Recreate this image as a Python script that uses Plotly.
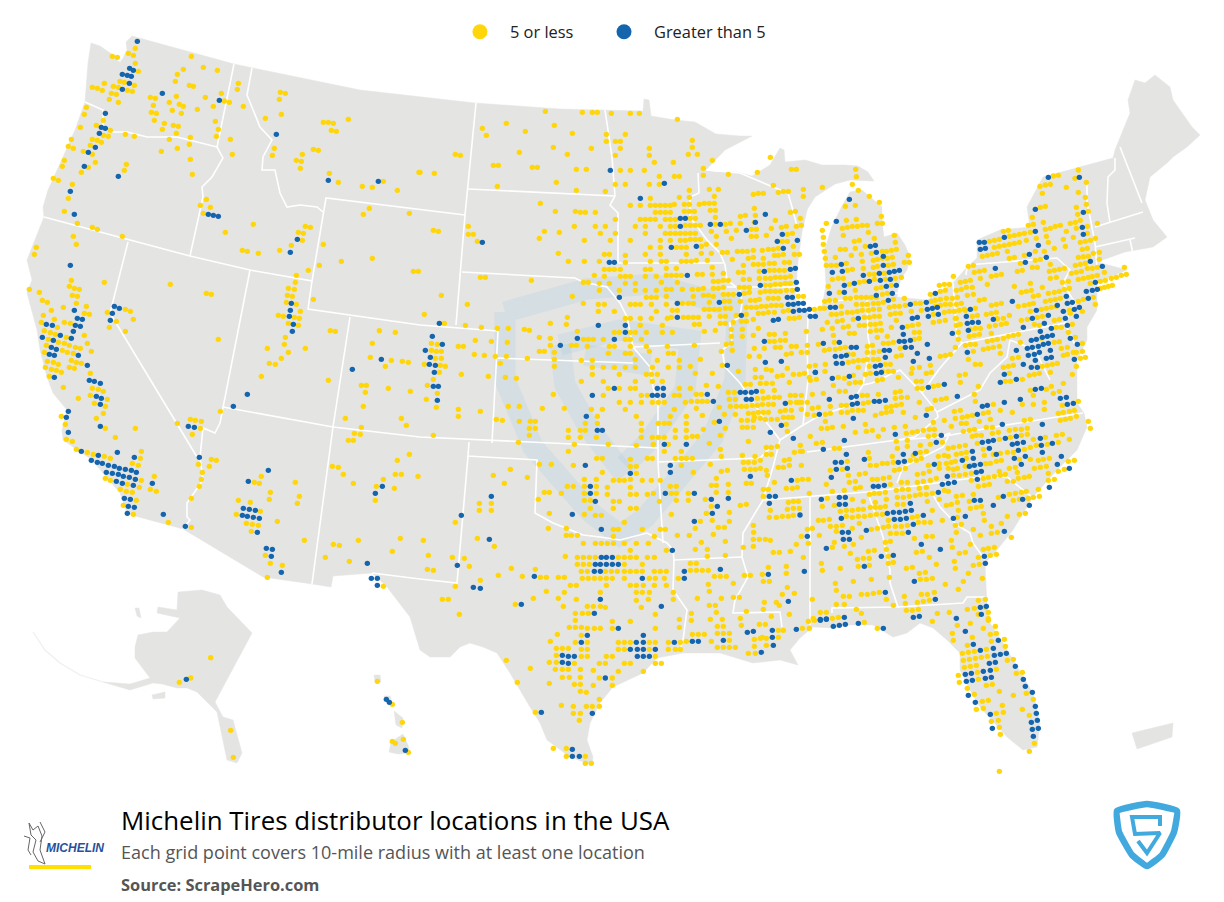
import plotly.graph_objects as go

# ---- reference readings: dots per map region, read at 3x magnification (x, y, origin of crop below)
NW_LOW = [(346,55),(325,70),(340,76),(277,79),(292,82),(514,79),(346,100),(355,124),(490,118),(550,112),(592,121),(472,133),(466,154),(300,154),(313,157),(253,160),(280,169),(295,172),(343,166),(217,172),(232,175),(247,181),(322,181),(337,184),(508,166),(520,169),(655,160),(652,178),(781,187),(796,190),(274,190),(289,193),(604,190),(391,202),(406,205),(469,199),(556,202),(778,208),(268,208),(295,217),(613,213),(628,217),(448,217),(478,223),(490,229),(400,226),(199,232),(670,229),(580,229),(532,238),(457,241),(394,247),(409,250),(484,250),(193,253),(784,253),(736,265),(403,271),(250,271),(586,274),(985,268),(910,277),(925,277),(940,280),(433,280),(229,286),(460,286),(475,289),(181,292),(427,298),(595,298),(271,301),(934,301),(949,304),(469,310),(250,316),(265,319),(316,313),(343,319),(589,319),(511,322),(154,328),(217,328),(232,331),(448,328),(631,328),(244,337),(211,346),(508,343),(145,349),(160,355),(472,355),(763,355),(880,358),(895,361),(424,364),(190,364),(217,373),(637,373),(847,373),(757,376),(511,388),(829,391),(844,394),(133,391),(226,397),(319,403),(127,409),(205,412),(841,415),(313,421),(184,427),(517,433),(928,430),(100,445),(115,451),(955,457),(157,463),(1090,454),(1027,469),(1057,472),(1132,481),(1197,427),(145,505),(559,508),(541,526),(571,532),(1048,535),(1030,553),(1168,550),(133,544),(550,550),(172,580),(700,583),(217,592),(232,598),(856,589),(871,592),(835,607),(850,610),(616,607),(160,619),(307,619),(847,631),(169,643),(910,643),(814,646),(49,652),(667,661),(682,664),(779,661),(715,670),(43,673),(1057,685),(964,694),(898,706),(865,721),(1180,724),(1195,724),(829,736),(154,751),(826,757),(253,757),(451,763),(148,769),(163,775),(178,778),(805,775),(823,778),(28,778),(58,787),(559,790),(574,793),(157,796),(172,799),(802,796),(817,799),(880,808),(67,811),(82,817),(169,820),(799,817),(829,823),(130,832),(199,829),(316,838),(331,844),(94,841),(841,844),(193,850),(208,853),(262,847),(70,856),(775,856),(790,859),(823,862),(838,865),(103,868),(289,874),(340,868),(133,877),(151,880),(64,877),(805,880),(835,886),(112,892),(268,892)]
NW_HIGH = [(352,34),(329,115),(340,121),(307,133),(322,136),(334,139),(328,160),(307,178),(427,190),(598,211),(256,250),(244,292),(256,295),(238,310),(226,352),(205,367),(769,313),(193,409),(295,439),(925,451),(1075,454),(151,484),(163,553),(565,553),(580,556),(595,559),(832,628),(811,667),(151,706),(814,820),(811,841),(283,829),(298,835),(277,850),(163,841),(808,859),(172,865),(187,868),(271,871),(79,883),(97,886),(820,883),(166,886),(181,889)]
NW_ORIGIN = (20, 30)

SW_LOW = [(73,2),(91,8),(106,13),(139,22),(193,16),(316,4),(595,28),(796,22),(931,2),(946,4),(1078,2),(1126,7),(85,28),(115,37),(133,40),(79,46),(148,46),(166,52),(181,55),(202,40),(793,43),(1057,40),(742,55),(856,55),(127,61),(142,67),(160,70),(73,67),(214,64),(805,67),(1051,82),(1114,91),(1147,94),(1165,97),(784,85),(154,91),(82,94),(100,97),(169,97),(184,100),(115,103),(748,100),(766,103),(1096,109),(76,112),(94,118),(148,112),(163,115),(109,121),(124,127),(211,130),(88,139),(724,139),(925,151),(1024,166),(1039,166),(1036,187),(217,175),(235,178),(250,184),(130,172),(1105,175),(1171,184),(211,196),(175,205),(262,208),(223,220),(256,229),(1030,229),(601,244),(250,250),(124,259),(229,265),(976,265),(1144,265),(526,271),(511,268),(544,274),(472,280),(136,283),(1159,286),(1024,292),(541,295),(256,295),(346,295),(1003,310),(1021,313),(517,313),(286,322),(985,331),(1000,331),(139,328),(157,334),(169,358),(202,367),(220,373),(364,364),(253,379),(271,385),(361,385),(1168,373),(574,388),(589,391),(1132,391),(337,400),(355,406),(535,403),(568,409),(937,409),(955,412),(547,427),(970,433),(1126,433),(1144,433),(1194,439),(403,439),(724,439),(256,445),(271,451),(364,451),(544,448),(1090,448),(703,457),(718,460),(826,457),(1000,460),(322,463),(538,469),(1069,469),(1123,475),(358,472),(301,478),(319,484),(337,487),(391,478),(409,484),(751,487),(838,499),(514,505),(748,508),(655,511),(691,517),(1066,511),(349,511),(832,520),(310,526),(721,544),(649,553),(340,553),(772,574),(679,580),(697,583),(715,586),(445,577),(514,592),(694,604),(853,631),(1015,631),(1141,625),(940,643),(958,646),(1117,664),(736,676),(916,682),(988,694),(751,700),(787,706),(742,742),(1090,769)]
SW_HIGH = [(67,22),(121,16),(154,25),(160,4),(100,31),(94,52),(109,58),(88,73),(103,76),(175,76),(202,106),(103,142),(997,118),(1084,88),(208,151),(223,154),(241,160),(682,193),(229,199),(244,205),(241,223),(640,229),(145,244),(139,262),(505,289),(523,292),(241,289),(145,307),(292,367),(184,364),(343,382),(235,376),(538,382),(214,391),(232,397),(247,400),(265,406),(283,409),(298,415),(316,418),(334,421),(349,427),(259,427),(277,430),(295,433),(310,439),(328,442),(346,448),(289,454),(307,460),(340,466),(397,460),(745,421),(685,454),(1087,469),(1066,490),(313,505),(331,508),(325,529),(343,532),(670,535),(688,538),(706,541),(322,550),(667,556),(682,559),(700,562),(718,565),(430,553),(496,589),(712,607),(739,655),(757,658),(754,679),(784,727),(1042,700),(1054,745),(1072,745),(1072,766),(817,4)]
SW_ORIGIN = (20, 330)

NC_LOW = [(376,64),(487,67),(517,67),(532,67),(574,70),(631,70),(658,70),(772,88),(259,100),(403,106),(187,115),(316,124),(199,136),(457,130),(559,133),(616,133),(559,154),(586,154),(601,154),(817,151),(400,172),(514,175),(601,175),(688,175),(817,172),(298,187),(442,193),(106,193),(121,196),(586,196),(688,196),(805,193),(832,193),(877,211),(703,217),(760,217),(1051,202),(220,226),(235,226),(337,232),(352,232),(469,238),(499,238),(601,241),(631,241),(673,241),(850,235),(1012,247),(1114,238),(1129,238),(0,247),(43,250),(925,253),(718,259),(763,259),(778,259),(850,256),(409,277),(586,283),(616,283),(688,283),(718,283),(1060,286),(232,289),(469,301),(556,304),(808,301),(868,298),(895,298),(1075,307),(1090,304),(1105,304),(1150,298),(1000,313),(1015,310),(1030,310),(883,319),(1150,319),(691,325),(778,322),(808,322),(361,340),(631,346),(661,346),(691,346),(706,346),(721,346),(736,346),(751,346),(763,343),(793,343),(808,343),(838,343),(853,340),(868,340),(883,340),(406,364),(466,364),(481,367),(496,367),(526,367),(706,367),(721,367),(736,367),(751,367),(793,364),(808,364),(823,364),(871,361),(886,361),(1003,355),(1111,367),(1126,364),(961,379),(976,376),(1006,376),(886,382),(586,388),(661,388),(676,388),(691,388),(706,388),(736,388),(751,388),(766,388),(811,385),(826,385),(1066,391),(1141,385),(961,400),(1003,397),(931,400),(886,403),(145,409),(463,409),(526,409),(556,409),(646,409),(676,409),(721,409),(751,409),(766,409),(796,406),(811,406),(826,406),(841,406),(916,403),(1054,415),(1084,412),(1099,409),(1129,409),(1144,406),(40,421),(55,424),(373,424),(418,427),(541,430),(586,430),(676,430),(736,430),(751,430),(766,430),(781,430),(796,430),(811,430),(826,430),(874,424),(919,424),(949,421),(994,418),(1009,418),(1102,433),(1117,430),(145,433),(160,433),(358,445),(493,451),(571,451),(631,451),(721,451),(751,451),(781,451),(796,451),(811,448),(826,448),(841,448),(889,439),(934,445),(994,439),(1009,439),(1039,436),(172,454),(859,463),(1087,454),(1102,454),(691,472),(721,472),(769,472),(784,472),(799,472),(844,469),(889,463),(1120,469),(1027,481),(1045,478),(1060,478),(1075,475),(415,490),(553,493),(568,493),(616,496),(676,493),(721,493),(799,493),(844,490),(874,490),(907,487),(922,487),(952,484),(967,484),(982,484),(1000,481),(1063,496),(1075,496),(1090,493),(1123,493),(1138,493),(937,508),(985,505),(1000,502),(1030,505),(445,514),(493,514),(538,514),(616,517),(691,514),(724,514),(739,514),(784,514),(799,514),(814,514),(829,511),(862,511),(1000,523),(1015,523),(1030,523),(1048,520),(1063,520),(1093,517),(1108,517),(970,526),(877,532),(553,538),(568,538),(583,538),(601,538),(676,538),(691,538),(739,535),(769,535),(1018,544),(1048,541),(1063,541),(1078,541),(1093,541),(955,547),(970,547),(910,550),(877,553),(523,556),(553,559),(601,559),(616,559),(631,559),(676,559),(709,559),(739,556),(754,556),(769,556),(784,556),(832,553),(847,553),(181,562),(196,562),(334,571),(970,568),(988,568),(1018,565),(1036,565),(1051,565),(1066,562),(1081,562),(1096,562),(1111,559),(880,574),(895,574),(910,571),(925,571),(490,577),(505,577),(538,580),(568,580),(616,580),(646,580),(724,577),(772,577),(958,592),(973,592),(988,592),(1036,586),(1051,586),(1066,583),(1081,583),(1096,580),(1111,580),(880,595),(895,595),(910,592),(538,601),(598,601),(646,601),(676,601),(709,601),(739,598),(754,598),(787,598),(817,598),(835,598),(850,595),(1021,607),(1036,604),(1051,604),(1066,604),(1081,604),(1099,601),(1117,601),(973,610),(988,607),(910,613),(925,613),(940,613),(64,616),(457,619),(679,622),(694,622),(709,622),(739,619),(820,619),(850,616),(865,616),(880,619),(1150,619),(1135,619),(1060,625),(1075,625),(1018,628),(1045,625),(991,631),(1006,631),(961,634),(913,634),(928,634),(868,637),(490,640),(535,643),(553,643),(631,643),(646,643),(661,643),(694,643),(739,643),(787,640),(805,640),(820,640),(979,652),(994,652),(1009,652),(1024,649),(1039,649),(1054,646),(1069,646),(1084,646),(142,643),(853,658),(868,658),(883,658),(898,658),(916,655),(931,655),(535,664),(583,664),(709,664),(757,661),(772,661),(1015,670),(1030,670),(1045,667),(1063,667),(1090,664),(1105,661),(1183,658),(13,673),(979,673),(442,682),(616,685),(631,685),(661,685),(694,685),(742,685),(754,682),(790,682),(805,682),(820,682),(835,682),(868,679),(901,679),(916,679),(949,676),(1123,685),(1138,682),(1108,685),(1000,688),(73,700),(391,700),(439,703),(136,706),(184,712),(232,715),(265,715),(313,718),(328,721),(661,706),(727,706),(823,703),(838,703),(901,700),(916,700),(979,694),(940,697),(964,694),(1015,715),(934,718),(967,718),(853,724),(886,721),(1096,730),(1159,724),(472,724),(583,727),(598,727),(631,727),(646,727),(679,727),(727,727),(757,727),(934,739),(967,739),(1048,733),(1063,733),(1000,736),(358,742),(391,745),(490,748),(505,748),(520,748),(550,748),(616,748),(631,748),(664,748),(1081,751),(1096,751),(166,751),(214,754),(262,757),(934,760),(1048,754),(1063,754),(115,769),(130,769),(391,766),(454,766),(469,766),(502,769),(568,769),(583,769),(631,769),(679,769),(742,769),(823,766),(919,763),(937,781),(1003,775),(1033,775),(1066,772),(1081,772),(1114,769),(1129,769),(1162,766),(1195,763),(358,784),(373,784),(565,790),(616,790),(631,790),(688,784),(745,790),(760,790),(904,784),(1114,790),(1099,793),(1162,787),(1144,787),(163,793),(193,796),(226,799),(259,799),(322,805),(403,787),(403,808),(646,808),(712,811),(778,811),(841,808),(1018,799),(988,799),(241,820),(484,811),(517,811),(517,832),(550,832),(583,832),(616,832),(646,832),(697,832),(745,832),(778,832),(811,829),(907,826),(1168,829),(1186,826),(403,829),(1102,835),(1039,838),(1054,841),(1006,838),(955,844),(124,853),(517,853),(598,853),(679,853),(694,853),(712,853),(826,850),(877,850),(1120,853),(1138,853),(1153,850),(1072,859),(1087,856),(205,859),(256,862),(289,865),(1006,862),(1024,862),(1168,862),(13,823),(34,760),(52,763),(34,781),(49,784),(64,784),(46,805),(64,805),(61,826),(76,829),(58,847),(40,868)]
NC_HIGH = [(571,241),(733,280),(661,325),(781,385),(796,385),(781,409),(871,403),(901,403),(1036,373),(1006,397),(979,421),(1087,433),(1072,454),(1132,451),(1090,475),(187,457),(754,472),(829,469),(568,517),(583,517),(1126,535),(1111,538),(1033,544),(802,556),(1021,586),(1129,577),(1132,598),(958,613),(598,622),(1102,622),(1117,622),(772,640),(898,637),(1105,643),(1120,643),(1135,640),(1150,640),(1120,664),(1138,661),(1153,661),(1168,658),(1171,679),(1186,679),(964,676),(772,682),(1060,691),(1075,688),(58,700),(535,706),(616,706),(616,727),(37,739),(472,745),(583,748),(67,763),(421,766),(16,781),(31,802),(28,823),(46,826),(43,847),(1033,754),(1036,817),(1084,814),(922,826),(1186,847)]
NC_ORIGIN = (420, 90)

NE_LOW = [(107,298),(109,320),(97,343),(7,352),(115,361),(148,379),(178,397),(76,409),(106,406),(184,439),(19,460),(79,451),(109,448),(172,460),(187,460),(67,475),(82,472),(97,469),(112,469),(127,466),(142,466),(145,487),(7,481),(70,496),(10,502),(163,505),(223,496),(103,514),(118,511),(10,523),(136,529),(226,517),(13,544),(61,538),(76,538),(106,535),(187,544),(199,544),(214,541),(229,538),(46,562),(94,556),(124,553),(154,550),(265,556),(16,565),(172,568),(187,565),(202,565),(217,562),(253,577),(268,577),(19,586),(34,586),(49,586),(79,580),(127,574),(160,571),(172,589),(205,586),(220,583),(82,601),(97,598),(130,595),(160,592),(37,628),(55,625),(70,625),(148,613),(163,613),(193,610),(88,643),(118,637),(133,634),(163,628),(196,628),(226,625),(244,622),(25,649),(106,661),(169,655),(184,652),(214,646),(58,667),(187,673),(202,670),(91,685),(76,685),(109,682),(124,682),(139,682),(154,682),(169,682),(14,694),(28,691),(46,691),(253,685),(220,688),(0,715),(13,715),(64,709),(109,703),(127,703),(142,703),(160,700),(175,700),(190,697),(208,712),(223,709),(238,709),(256,706),(286,700),(301,700),(64,730),(82,727),(97,727),(112,724),(127,721),(145,721),(160,718),(178,718),(34,733),(49,733),(211,733),(226,730),(241,730),(163,739),(178,739),(148,742),(133,742),(52,754),(67,751),(22,757),(100,748),(229,751),(274,724),(304,721),(118,766),(133,766),(151,763),(166,763),(181,760),(70,772),(85,769),(37,775),(7,778),(214,772),(262,769),(277,766),(295,763),(151,784),(169,781),(184,781),(298,787),(283,787),(40,796),(88,790),(103,790),(172,802),(202,799),(43,817),(283,808),(298,805),(142,829),(157,826),(190,820),(205,820),(220,817),(28,838),(46,838),(61,835),(76,832),(241,835),(13,841),(142,847),(160,847),(178,844),(229,859),(244,856),(85,853),(100,853),(142,868),(160,868),(175,868),(100,874),(85,877),(115,871),(130,871),(277,895),(298,892),(115,892),(148,889),(196,883),(211,883),(331,886),(16,883),(358,646),(373,643),(388,643),(361,664),(376,661),(331,673),(361,688),(379,685),(346,691),(334,694),(397,685),(412,682),(346,709),(361,706),(376,703),(391,703),(409,703),(424,700),(340,733),(373,727),(388,724),(403,724),(418,721),(433,718),(406,745),(376,751),(358,754),(340,757),(400,619),(445,589),(460,586),(463,607),(478,604),(493,601),(421,637),(436,634),(451,631),(481,625),(514,619),(529,616),(544,613),(592,604),(607,601),(637,592),(652,592),(688,604),(703,601),(718,598),(733,595),(409,661),(424,658),(439,652),(457,652),(502,643),(583,649),(631,640),(604,667),(619,664),(634,661),(667,652),(691,625),(709,622),(727,637),(745,634),(685,670),(703,667),(718,664),(733,658),(748,655),(775,628),(790,625),(805,622),(817,619),(832,616),(754,610),(769,607),(784,604),(802,595),(817,595),(832,592),(853,607),(811,640),(841,634),(856,631),(874,625),(889,622),(904,616),(919,613),(913,592),(841,655),(853,652),(865,649),(877,646),(442,676),(460,673),(478,691),(493,688),(514,706),(529,703),(544,700),(595,709),(613,706),(628,703),(640,700),(655,676),(640,679),(676,694),(691,691),(706,688),(721,685),(775,694),(790,688),(820,682),(826,703),(631,724),(664,718),(679,715),(694,712),(709,709),(748,721),(466,715),(436,721),(409,745),(421,763),(409,766),(457,739),(472,736),(499,733),(514,730),(529,727),(532,746),(550,745),(568,736),(481,775),(466,775),(451,778),(463,796),(448,799),(478,793),(508,769),(526,766),(544,763),(559,760),(514,790),(604,751),(622,748),(652,742),(667,739),(703,751),(718,748),(757,763),(751,730),(787,724),(724,772),(709,772),(595,793),(643,763),(658,766),(580,796),(565,799),(550,805),(532,808),(517,811),(502,814),(538,829),(520,832),(505,835),(490,838),(466,823),(451,823),(436,826),(415,787),(415,808),(406,832),(391,853),(376,856),(361,859),(601,817),(664,805),(718,815),(703,817),(460,844),(445,868),(466,883),(481,883),(541,850),(742,832),(724,835),(787,820),(769,847),(787,844),(796,862),(781,865),(730,856),(742,853),(760,847),(769,889),(712,880),(697,883),(682,886),(667,889),(745,787),(766,802),(580,886),(565,889),(550,892),(595,862),(577,865)]
NY_LOW = [(700,318),(715,316),(775,300),(765,325),(660,349),(676,345),(691,343),(739,352),(799,337),(667,370),(775,367),(796,382),(799,403),(769,412),(773,433),(805,424),(661,412),(676,409),(637,442),(625,466),(640,463),(670,457),(676,478),(691,475),(706,469),(721,466),(751,460),(766,457),(781,451),(769,475),(802,469),(832,460),(739,484),(679,499),(649,505),(760,502),(685,517),(730,508),(802,490),(781,517),(796,514),(811,511),(826,505),(703,535),(736,529),(787,538),(802,535),(790,560),(805,559),(820,550),(838,547),(775,562),(838,568),(661,568),(601,580),(691,583),(766,586),(781,583),(796,580),(508,514),(523,511),(538,508),(550,484),(565,481),(568,499),(583,496),(598,493),(613,490),(631,487),(523,532),(538,529),(553,526),(568,523),(583,520),(598,517),(619,511),(487,559),(502,556),(517,553),(532,550),(562,544),(583,562),(568,565),(613,556),(646,544),(673,544),(646,571)]
NE_HIGH = [(88,388),(49,454),(151,529),(166,526),(169,547),(190,559),(64,583),(37,607),(67,604),(130,616),(178,610),(208,607),(223,604),(238,601),(190,586),(73,646),(103,640),(148,634),(181,631),(211,628),(199,649),(229,646),(73,667),(28,670),(217,670),(169,676),(205,691),(271,703),(319,697),(346,670),(31,712),(46,712),(322,718),(337,715),(352,712),(325,739),(355,733),(277,745),(292,742),(115,745),(451,718),(439,739),(247,772),(442,760),(457,757),(475,757),(520,748),(445,781),(397,790),(250,793),(238,814),(253,814),(271,811),(256,832),(274,832),(10,820),(58,817),(94,832),(109,832),(322,823),(193,841),(208,841),(442,847),(292,850),(46,859),(64,859),(79,856),(196,862),(328,865),(280,874),(49,880),(67,880),(166,889),(181,886),(478,517),(493,517),(553,502),(481,538),(496,535),(646,484),(655,526),(628,553),(616,577),(679,562),(526,595),(646,418),(685,322),(778,322),(790,427),(787,472),(790,493),(811,574),(847,589),(826,637),(799,664),(817,661),(832,658),(805,685),(739,679),(757,697),(742,700),(712,706),(778,712),(763,718),(730,724),(685,736),(649,721),(637,745),(736,745),(769,739),(742,766),(673,760),(661,784),(610,772),(694,775),(577,694),(697,796),(682,799),(667,802),(649,808),(634,811),(622,835),(637,832),(655,829),(670,823),(685,820),(691,841),(658,847),(643,853),(625,856),(646,871),(679,865),(694,862),(589,841),(610,883),(634,892),(652,892),(772,823),(751,805),(763,868)]
NE_ORIGIN = (820, 70)

SC_LOW = [(22,16),(52,40),(19,58),(49,82),(115,88),(115,109),(181,94),(40,166),(229,118),(247,121),(265,79),(298,79),(298,124),(295,187),(331,124),(346,124),(328,145),(346,145),(328,166),(367,85),(400,43),(433,85),(484,4),(445,151),(445,172),(463,193),(445,214),(481,151),(496,151),(481,172),(496,130),(514,88),(547,88),(532,109),(532,130),(529,172),(565,193),(550,46),(565,25),(598,25),(631,25),(646,25),(550,4),(646,4),(598,67),(631,67),(664,67),(616,88),(649,109),(664,130),(664,151),(664,172),(649,196),(697,172),(715,172),(733,172),(700,193),(745,193),(664,46),(682,46),(763,46),(778,46),(697,4),(727,4),(778,25),(811,25),(829,43),(844,43),(859,16),(895,19),(697,67),(715,67),(733,67),(763,88),(796,67),(814,64),(829,85),(832,64),(847,64),(862,64),(898,82),(847,106),(799,109),(715,130),(733,130),(748,130),(751,109),(766,151),(799,130),(799,151),(850,148),(913,103),(883,127),(916,145),(766,172),(799,172),(817,169),(832,169),(868,190),(901,166),(985,184),(901,208),(904,229),(733,214),(784,214),(967,226),(1005,229),(1039,202),(1054,202),(1039,223),(1054,223),(1072,199),(1141,196),(1123,217),(1141,214),(1102,154),(1099,133),(1090,112),(1105,112),(1117,112),(1072,118),(1054,118),(1036,118),(1021,115),(1003,112),(985,100),(1000,100),(1015,97),(1030,97),(1045,97),(925,37),(943,37),(928,58),(946,58),(931,79),(949,79),(964,79),(979,79),(997,76),(1012,76),(1027,73),(1045,73),(1060,73),(1012,55),(1030,55),(1045,52),(1063,52),(1078,52),(1027,34),(1063,31),(1111,46),(1126,46),(1138,67),(1111,67),(1129,67),(1081,94),(1096,91),(1114,91),(946,103),(964,121),(982,121),(1000,121),(967,142),(982,142),(1000,142),(1021,10),(1039,10),(1057,10),(1108,7),(976,13),(991,13),(530,235),(547,235),(631,238),(682,235),(697,235),(766,235),(784,235),(799,235),(817,235),(358,253),(394,253),(460,256),(649,259),(631,259),(871,253),(904,274),(922,271),(970,247),(985,247),(1003,247),(1021,241),(1021,265),(973,268),(991,268),(1006,268),(1039,271),(1075,262),(1090,262),(1108,238),(1093,241),(1108,256),(547,277),(649,280),(271,268),(220,286),(322,292),(253,310),(493,298),(529,298),(580,301),(598,301),(613,301),(631,298),(667,301),(694,301),(721,301),(784,256),(820,277),(889,295),(979,310),(994,310),(1042,286),(1063,307),(1132,301),(442,319),(460,319),(493,319),(529,319),(562,322),(631,322),(751,319),(769,319),(874,316),(889,316),(925,313),(1099,325),(1117,325),(1132,322),(1030,328),(1045,328),(1030,349),(373,337),(388,337),(424,340),(493,340),(529,340),(562,343),(631,343),(649,343),(682,343),(700,340),(754,340),(769,340),(805,340),(925,337),(889,337),(355,358),(493,361),(511,361),(580,364),(598,364),(718,364),(769,361),(805,361),(856,358),(1105,367),(1120,364),(1135,364),(214,370),(178,370),(178,391),(214,391),(874,379),(961,376),(979,373),(1102,388),(1120,385),(1138,385),(511,385),(580,385),(631,385),(649,385),(388,400),(493,403),(526,406),(544,406),(754,403),(859,400),(928,397),(1051,391),(1048,412),(1069,412),(1087,409),(1105,409),(1120,406),(106,427),(613,427),(841,424),(877,421),(928,424),(385,445),(895,442),(913,442),(1000,436),(580,448),(595,448),(667,448),(721,448),(736,448),(1001,457),(439,445),(439,466),(454,466),(472,466),(580,469),(703,469),(772,466),(808,466),(880,463),(1000,478),(1018,478),(1036,478),(1051,481),(172,475),(10,481),(826,445),(223,499),(490,490),(526,490),(544,490),(562,490),(580,490),(613,490),(649,490),(685,490),(844,487),(916,484),(1129,493),(970,502),(1000,499),(826,508),(862,508),(631,511),(739,511),(1060,517),(1078,517),(1111,514),(25,526),(97,532),(133,535),(436,529),(472,532),(490,532),(508,532),(526,532),(595,532),(613,532),(631,532),(649,532),(682,532),(703,532),(862,529),(916,526),(472,553),(490,553),(508,553),(613,553),(667,553),(811,550),(829,550),(148,559),(1099,559),(1045,562),(22,568),(40,571),(274,565),(346,568),(484,574),(502,574),(556,574),(574,574),(592,574),(613,574),(631,574),(649,574),(667,574),(703,574),(721,574),(739,574),(811,571),(829,571),(847,571),(865,571),(1099,580),(235,586),(307,589),(361,592),(379,592),(415,592),(433,592),(487,595),(505,595),(523,595),(541,595),(559,595),(577,595),(613,595),(688,595),(706,595),(733,595),(775,595),(883,589),(901,589),(919,589),(973,586),(991,586),(1027,583),(1030,604),(1048,604),(181,601),(106,619),(451,616),(469,616),(559,616),(631,616),(649,616),(670,616),(703,616),(739,616),(865,613),(940,610),(1102,622),(379,634),(433,637),(541,637),(649,637),(667,637),(688,637),(760,637),(868,634),(1087,643),(1123,640),(67,658),(85,658),(340,655),(415,655),(469,658),(649,661),(685,658),(760,658),(832,655),(904,655),(940,652),(958,652),(1033,667),(1069,667),(430,679),(502,679),(520,679),(541,679),(556,682),(664,682),(868,676),(886,676),(1030,688),(1078,676),(118,703),(286,673),(466,700),(487,700),(505,700),(706,703),(814,700),(889,697),(979,694),(1108,703),(1054,709),(466,721),(577,724),(631,724),(778,718),(814,721),(871,718),(907,718),(961,715),(448,742),(466,742),(484,742),(502,745),(523,745),(541,745),(577,745),(706,745),(778,742),(892,739),(910,739),(964,736),(1018,733),(1036,733),(1075,751),(1090,751),(412,763),(466,787),(484,766),(595,787),(613,787),(631,787),(688,787),(706,787),(745,787),(781,787),(799,784),(817,763),(835,763),(853,763),(892,760),(910,760),(928,760),(1027,772),(1075,772),(391,784),(502,787),(874,784),(928,781),(1003,778),(1021,775),(1039,775),(409,805),(427,805),(445,805),(484,808),(502,808),(595,808),(613,808),(688,808),(745,808),(766,808),(781,808),(892,802),(910,802),(928,802),(946,802),(1003,799),(1039,796),(409,826),(484,829),(502,829),(559,829),(577,829),(706,829),(985,820),(1006,820),(259,841),(388,847),(409,847),(463,850),(538,850),(556,850),(613,850),(631,850),(706,850),(724,850),(331,865),(406,868),(427,868),(445,868),(481,868),(520,871),(595,874),(670,874),(427,892),(448,892),(481,892),(538,894),(577,894)]
SC_HIGH = [(40,19),(55,19),(52,61),(517,46),(583,25),(712,25),(730,25),(697,46),(712,46),(730,46),(862,43),(880,64),(499,109),(532,151),(547,151),(898,124),(733,193),(799,193),(976,37),(994,37),(1009,34),(961,37),(979,58),(994,58),(1096,70),(1084,136),(1051,157),(1120,175),(496,256),(751,256),(751,277),(631,280),(991,289),(1114,301),(511,319),(511,340),(526,364),(736,340),(823,340),(214,349),(874,358),(925,355),(1048,349),(1066,349),(1048,370),(892,379),(124,406),(457,403),(877,400),(823,424),(544,448),(208,478),(757,511),(544,532),(559,532),(577,532),(526,553),(541,553),(559,553),(577,553),(595,553),(112,556),(523,574),(541,574),(793,574),(901,568),(1045,583),(343,589),(667,595),(793,595),(160,622),(181,625),(541,658),(1105,664),(304,673),(724,679),(523,700),(595,745),(1129,748),(670,766),(502,766),(484,787),(649,787),(670,787),(910,781),(763,787),(817,784),(835,784),(982,757),(1000,754),(1057,751),(1057,772),(631,808),(652,808),(670,808),(706,808),(427,826),(445,829),(463,829),(652,829),(670,829),(688,829),(1060,796),(1024,817),(427,847),(445,850),(556,894)]
SC_ORIGIN = (420, 380)

SE_LOW = [(75,4),(115,22),(160,16),(196,13),(211,10),(247,4),(265,4),(280,4),(295,22),(334,10),(379,10),(394,7),(478,16),(496,13),(628,10),(688,16),(703,13),(718,10),(751,7),(817,13),(31,31),(49,28),(133,25),(232,31),(247,28),(349,34),(364,34),(481,37),(631,34),(616,34),(667,28),(148,40),(166,37),(181,37),(100,46),(352,55),(367,55),(400,49),(415,46),(535,49),(754,49),(691,61),(739,58),(790,40),(118,64),(136,64),(70,70),(37,73),(235,73),(286,67),(301,64),(760,70),(778,64),(523,73),(304,82),(322,82),(187,76),(202,76),(286,85),(406,91),(424,88),(439,85),(526,94),(358,97),(700,76),(733,97),(4,76),(4,97),(22,97),(190,100),(205,97),(304,103),(289,106),(274,109),(259,112),(37,115),(55,112),(91,109),(124,106),(139,106),(580,103),(835,94),(787,106),(733,118),(700,103),(667,103),(382,118),(394,115),(463,124),(481,121),(4,118),(22,133),(43,136),(76,133),(91,130),(124,127),(142,127),(157,121),(175,121),(190,121),(244,130),(259,127),(274,124),(310,127),(346,142),(517,136),(502,139),(487,142),(466,145),(550,130),(565,127),(601,121),(637,127),(775,130),(790,127),(808,124),(823,121),(829,139),(811,145),(796,148),(781,151),(400,157),(433,151),(226,136),(76,154),(64,175),(82,175),(97,172),(130,169),(196,163),(283,172),(316,169),(199,184),(217,181),(250,178),(166,187),(319,190),(337,187),(352,184),(370,181),(388,178),(403,178),(403,196),(385,199),(454,169),(484,160),(499,160),(538,154),(571,148),(559,172),(577,172),(490,184),(508,181),(523,178),(517,199),(529,196),(544,196),(577,190),(595,187),(628,181),(646,178),(664,178),(682,175),(673,151),(691,148),(865,154),(871,175),(769,196),(787,193),(808,208),(682,193),(664,196),(631,202),(598,208),(736,202),(700,208),(31,199),(235,199),(289,214),(322,211),(391,223),(361,226),(427,217),(49,220),(67,217),(103,235),(118,235),(205,247),(292,235),(322,229),(379,244),(361,247),(445,235),(460,232),(478,229),(496,226),(532,220),(550,238),(742,223),(775,217),(709,226),(691,232),(673,238),(640,247),(622,247),(601,250),(580,253),(553,256),(499,247),(484,250),(469,253),(445,259),(433,256),(415,259),(418,281),(277,259),(340,256),(364,265),(349,271),(7,244),(208,265),(142,274),(331,271),(4,286),(499,265),(466,274),(454,277),(439,280),(385,286),(247,280),(262,280),(280,277),(229,286),(127,298),(211,286),(283,301),(298,298),(316,295),(91,301),(196,310),(178,313),(352,313),(370,310),(388,304),(418,295),(445,295),(460,298),(472,295),(496,289),(514,286),(557,281),(571,280),(589,274),(604,271),(658,268),(691,268),(715,271),(730,268),(748,265),(805,274),(823,271),(703,295),(721,292),(739,289),(793,298),(775,304),(628,295),(646,292),(598,304),(652,307),(745,310),(655,325),(673,322),(688,319),(745,331),(763,328),(601,316),(616,313),(583,319),(565,322),(550,325),(514,331),(514,310),(496,313),(478,316),(460,316),(409,325),(391,331),(370,334),(352,337),(304,337),(322,337),(145,316),(148,337),(166,334),(217,328),(232,328),(250,325),(268,322),(7,328),(25,328),(79,343),(181,352),(166,355),(133,361),(97,364),(271,343),(379,352),(358,355),(535,349),(553,346),(568,343),(622,334),(640,334),(307,358),(325,358),(289,361),(28,370),(208,373),(223,370),(238,370),(256,367),(292,382),(310,382),(328,379),(346,376),(361,373),(379,373),(397,370),(433,361),(445,364),(418,388),(487,376),(469,379),(520,373),(508,394),(628,373),(646,370),(664,367),(679,364),(715,358),(595,382),(640,391),(658,388),(685,385),(700,382),(718,379),(82,385),(67,409),(103,406),(157,388),(190,394),(226,397),(259,388),(292,403),(310,403),(382,394),(439,406),(454,403),(472,397),(511,415),(529,412),(544,409),(475,421),(550,430),(658,433),(676,430),(121,424),(139,421),(157,421),(175,418),(190,418),(211,412),(226,412),(241,412),(256,409),(175,439),(193,439),(211,436),(229,433),(247,433),(352,439),(337,442),(397,421),(622,439),(157,442),(139,439),(55,451),(70,451),(88,448),(553,451),(604,460),(427,451),(355,457),(265,451),(373,457),(391,457),(472,442),(178,460),(109,469),(91,469),(127,466),(157,475),(37,475),(4,499),(22,478),(574,469),(250,472),(232,475),(214,478),(265,469),(286,469),(304,469),(322,466),(466,466),(484,463),(520,478),(271,490),(289,490),(307,490),(592,487),(574,490),(469,487),(541,496),(58,496),(109,484),(184,502),(343,505),(379,499),(397,499),(103,517),(25,520),(271,514),(256,517),(133,529),(97,532),(160,523),(454,511),(634,502),(457,532),(511,523),(550,538),(565,535),(583,532),(259,538),(205,544),(223,541),(151,550),(367,544),(349,547),(478,550),(496,547),(265,559),(571,556),(589,553),(535,562),(10,562),(172,568),(190,565),(208,565),(388,562),(463,574),(64,580),(265,580),(280,577),(409,583),(520,586),(538,583),(121,595),(175,589),(208,586),(337,592),(319,595),(466,595),(67,601),(505,610),(358,610),(376,607),(268,622),(361,628),(379,628),(397,625),(214,628),(160,634),(436,643),(490,634),(547,625),(106,640),(109,661),(475,658),(403,667),(382,673),(364,673),(238,667),(220,670),(202,673),(184,673),(148,679),(130,679),(37,688),(259,688),(352,697),(370,694),(388,691),(313,679),(316,700),(133,703),(109,703),(280,706),(535,691),(556,688),(523,715),(502,718),(556,712),(61,727),(79,727),(97,745),(115,742),(169,718),(184,730),(40,745),(319,721),(337,721),(355,718),(412,730),(448,727),(535,733),(565,727),(565,746)]
SE_HIGH = [(46,7),(229,10),(244,7),(613,13),(97,25),(148,19),(601,37),(649,28),(433,43),(385,52),(724,55),(706,58),(472,79),(154,82),(169,79),(88,88),(223,94),(238,94),(256,91),(157,103),(172,100),(661,88),(781,85),(799,82),(802,103),(820,100),(613,97),(547,109),(562,106),(379,136),(58,133),(532,133),(160,145),(607,163),(727,163),(286,193),(424,196),(133,211),(409,217),(547,217),(565,214),(580,211),(616,205),(649,199),(721,205),(637,223),(652,220),(670,217),(757,220),(724,226),(568,235),(70,238),(517,244),(655,241),(727,247),(139,253),(589,253),(310,253),(346,250),(193,268),(520,265),(643,265),(676,259),(784,259),(106,277),(124,277),(295,277),(313,274),(487,271),(403,283),(541,283),(523,286),(508,289),(664,283),(772,283),(109,298),(142,295),(544,304),(529,307),(808,295),(94,322),(532,328),(442,319),(427,343),(445,340),(463,337),(748,352),(220,349),(235,349),(253,346),(415,367),(610,379),(118,382),(136,382),(64,388),(523,391),(541,391),(668,388),(688,406),(118,403),(136,403),(580,406),(331,400),(262,430),(280,427),(298,427),(316,424),(334,421),(370,436),(460,445),(496,439),(283,448),(301,448),(319,445),(124,445),(340,463),(199,481),(325,487),(127,487),(145,487),(613,484),(22,499),(130,508),(148,508),(364,523),(79,535),(421,538),(244,559),(280,556),(553,559),(556,580),(193,589),(13,604),(343,634),(256,667),(406,688),(541,712),(559,709),(544,733),(340,742),(358,739),(469,745),(61,748),(79,747),(133,742),(0,435)]
SE_ORIGIN = (800, 370)

FL_LOW = [(7,115),(28,115),(232,115),(397,94),(472,106),(511,100),(550,115),(586,109),(565,91),(457,130),(571,133),(589,130),(460,151),(517,142),(574,154),(613,148),(502,166),(616,169),(487,190),(505,187),(523,184),(559,178),(490,211),(508,208),(526,205),(544,202),(562,199),(622,211),(640,208),(493,232),(511,229),(529,226),(589,238),(532,247),(649,250),(667,247),(475,256),(535,268),(478,277),(559,286),(577,283),(502,295),(598,304),(679,310),(640,316),(523,313),(700,328),(547,334),(565,331),(607,346),(529,358),(550,355),(667,358),(589,370),(610,367),(688,376),(574,394),(595,391),(598,412),(601,433),(703,460),(688,484),(598,544),(25,94),(43,91),(193,97)]
FL_HIGH = [(100,109),(118,106),(136,103),(175,100),(250,115),(61,91),(79,88),(496,124),(520,163),(595,151),(541,181),(580,175),(583,196),(601,193),(619,190),(568,220),(586,217),(646,229),(550,244),(571,241),(496,253),(514,250),(556,265),(574,262),(670,268),(499,274),(517,271),(676,289),(697,307),(505,316),(526,337),(706,349),(709,370),(571,373),(712,391),(694,397),(715,415),(697,418),(577,415),(700,439)]
FL_ORIGIN = (800, 590)

TX_LOW = [(112,127),(208,130),(283,133),(301,133),(340,136),(397,136),(301,154),(319,157),(358,178),(244,196),(280,199),(319,199),(337,199),(358,199),(280,220),(301,220),(166,217),(298,241),(220,325),(259,325),(259,349),(316,349),(316,370),(334,370)]
TX_HIGH = [(184,217),(337,220),(277,328),(277,349),(298,349)]
TX_ORIGIN = (480, 640)

AK_HI_LOW = [(572,233),(512,294),(478,307),(632,451),(640,532),(1072,304),(1117,373),(1147,427),(1150,478),(1117,484),(1126,490),(1165,517)]
AK_HI_HIGH = [(499,298),(1099,358),(1108,367),(1156,511)]
AK_HI_ORIGIN = (20, 580)

CATEGORIES = ["5 or less", "Greater than 5"]
TITLE = "Michelin Tires distributor locations in the USA"
SUBTITLE = "Each grid point covers 10-mile radius with at least one location"
SOURCE = "Source: ScrapeHero.com"

# ---- base map outlines (image pixels)
MAINLAND = [(91,43),(100,46),(113,55),(122,60),(127,50),(126,42),(132,36),(234,64),(253,68),(360,90),(475,103),(560,109),(643,111),(644,99),(649,100),(651,116),(675,120),(695,122),(716,134),(740,136),(752,136),(725,150),(706,170),(716,172),(737,172),(752,176),(770,165),(780,148),(784,150),(785,162),(805,160),(822,165),(845,165),(858,166),(868,172),(874,181),(850,180),(835,184),(815,197),(804,215),(797,226),(808,206),(802,232),(798,262),(795,298),(802,310),(812,315),(822,306),(826,285),(824,252),(832,226),(842,206),(850,192),(862,190),(882,207),(882,222),(884,237),(897,233),(905,245),(910,257),(907,270),(902,277),(898,287),(897,297),(927,300),(953,283),(967,267),(977,258),(977,240),(1000,230),(1030,227),(1027,207),(1043,177),(1113,158),(1115,150),(1130,113),(1128,100),(1135,80),(1145,83),(1155,75),(1170,87),(1173,100),(1187,120),(1192,127),(1200,135),(1187,147),(1173,157),(1167,163),(1150,177),(1145,200),(1153,220),(1167,237),(1153,247),(1125,252),(1097,262),(1127,270),(1097,283),(1097,310),(1087,327),(1087,340),(1077,360),(1077,403),(1084,413),(1087,427),(1077,450),(1057,470),(1033,497),(1013,530),(997,550),(985,563),(987,607),(990,623),(1003,643),(1017,667),(1033,693),(1040,723),(1037,747),(1023,750),(1007,737),(990,718),(980,707),(970,690),(960,670),(960,653),(947,640),(933,628),(920,623),(907,633),(893,637),(873,625),(850,625),(833,628),(813,627),(800,638),(790,650),(798,665),(780,660),(753,663),(720,653),(683,653),(657,658),(643,673),(613,687),(600,703),(590,723),(587,740),(593,757),(592,765),(570,757),(547,740),(540,723),(530,707),(520,690),(510,673),(497,653),(483,647),(470,643),(460,647),(450,657),(430,657),(420,650),(410,617),(387,587),(372,573),(333,576),(331,587),(312,584),(263,577),(183,529),(135,516),(127,513),(120,493),(92,460),(77,450),(63,440),(62,430),(67,410),(53,393),(47,377),(40,350),(37,330),(27,293),(32,280),(27,260),(35,240),(44,217),(43,207),(48,190),(63,157),(75,130),(85,102),(88,63),(91,43)]
PUGET_SOUND = [(120,62),(124,52),(125,43),(123,44),(121,52),(117,60)]
ALASKA = [(178,592),(202,590),(220,595),(227,607),(252,633),(215,702),(223,717),(233,720),(242,753),(237,763),(227,760),(222,737),(217,712),(197,692),(187,688),(177,688),(162,684),(153,683),(130,690),(103,682),(130,684),(150,678),(135,658),(135,647),(138,635),(153,632),(167,632),(180,618),(157,613),(158,607),(177,610),(178,592)]
ALEUTIANS = [(103,682),(80,675),(60,663),(45,650),(33,632)]
KODIAK = [(152,695),(165,692),(165,698),(153,699),(152,695)]
ISLE_NORTON = [(135,608),(139,608),(141,618),(137,616),(135,608)]
KAUAI = [(374,675),(380,675),(381,682),(375,682),(374,675)]
OAHU = [(384,696),(390,696),(392,703),(386,702),(384,696)]
MAUI = [(394,711),(403,718),(402,728),(396,725),(394,711)]
BIG_ISLAND = [(403,734),(408,745),(410,753),(398,754),(389,752),(391,742),(403,734)]
PUERTO_RICO = [(1132,733),(1173,723),(1172,737),(1137,749),(1132,733)]
BORDERS = [
    [(85,102),(103,110),(103,127),(110,132),(127,132),(147,137),(177,137),(217,147)],
    [(234,64),(217,147),(223,158),(212,177),(202,187),(203,197),(190,256)],
    [(44,217),(190,256),(250,270),(312,281),(308,309),(420,325),(498,331)],
    [(252,68),(247,95),(260,127),(272,140),(263,157),(262,170),(275,170),(280,193),(287,207),(300,205),(317,207),(323,212)],
    [(312,281),(326,198),(465,215)],
    [(476,103),(468,189),(465,215),(456,325)],
    [(468,189),(615,196)],
    [(605,110),(612,157),(615,196),(610,205),(618,213),(618,263)],
    [(462,272),(575,278),(583,282),(607,287),(620,303),(627,317),(633,347),(650,367),(653,387),(658,403),(658,462),(663,543)],
    [(498,331),(492,443)],
    [(495,358),(633,363)],
    [(223,407),(333,427),(420,437),(658,448)],
    [(469,442),(468,456),(537,460),(535,513),(553,523),(583,535),(600,537),(620,540),(647,533),(667,543),(673,550),(674,560),(742,557)],
    [(658,462),(760,458),(773,445)],
    [(674,560),(673,590),(687,610),(683,640),(680,650)],
    [(698,173),(699,193),(690,197),(690,217),(707,240),(720,253),(725,265),(727,280),(740,290),(742,303),(740,317),(730,323),(732,343),(722,350),(725,367),(740,383),(767,423),(780,440),(773,467),(763,500),(743,533),(742,557),(748,577),(735,600),(733,613),(780,612),(782,627)],
    [(810,497),(810,625)],
    [(763,500),(867,492),(900,488),(980,477),(1007,477),(1023,490),(1033,498)],
    [(633,347),(720,343)],
    [(618,263),(723,263)],
    [(727,287),(795,287)],
    [(706,170),(740,173),(773,187),(788,193),(792,207),(797,226)],
    [(808,317),(807,343),(808,380),(803,425)],
    [(780,440),(800,427),(817,417),(850,405),(863,385),(872,383),(900,370),(922,393),(937,412),(938,417),(915,437),(897,440)],
    [(807,452),(897,440),(940,437),(1000,426),(1057,417),(1083,413)],
    [(897,483),(903,467),(923,457),(943,447),(950,433),(940,437)],
    [(937,412),(960,400),(980,390),(990,373),(1007,357),(1010,340)],
    [(962,343),(1065,323)],
    [(1010,340),(1035,350),(1050,380)],
    [(953,283),(957,337),(962,343),(940,368),(922,393)],
    [(967,267),(966,275)],
    [(966,265),(1057,258),(1070,270),(1063,283),(1075,303),(1065,323),(1075,345)],
    [(868,493),(883,537),(890,570),(890,583),(898,607),(832,608),(832,613)],
    [(898,607),(963,603),(967,597),(985,597)],
    [(932,493),(940,507),(957,525),(970,533),(973,543),(985,560)],
    [(867,297),(868,337),(870,347),(863,385)],
    [(820,303),(898,293)],
    [(1087,180),(1087,203),(1090,217),(1095,243),(1097,267)],
    [(1115,158),(1115,170),(1108,177),(1107,203),(1110,223)],
    [(1120,147),(1142,203)],
    [(1095,227),(1143,212)],
    [(1095,247),(1135,238)],
    [(1130,240),(1135,262)],
    [(128,242),(110,313),(197,457)],
    [(250,270),(238,330),(223,407),(220,423),(215,433),(203,428),(200,457),(203,480),(187,503),(187,517),(190,520),(183,529)],
    [(350,317),(333,427),(312,584)],
    [(468,456),(457,583),(420,579),(372,573)],
]
WATERMARK_BANDS = [
    [(505,312),(587,289),(653,284),(737,308),(735,380),(713,437),(645,518),(620,535),(590,512),(533,447),(505,380),(505,312)],
    [(560,345),(620,330),(690,340),(685,390),(650,440),(625,465)],
    [(560,345),(565,385),(590,430),(625,475)],
    [(585,355),(650,365)],
]
SHIELD = [(1117,811),(1147,804),(1177,811),(1174,832),(1162,855),(1147,866),(1132,855),(1119,832),(1117,811)]
SHIELD_S = [(1160,826),(1160,817),(1132,817),(1135,834),(1160,833),(1147,853),(1138,841)]
BIBENDUM = [[(29,823),(31,835),(36,840),(33,852),(38,861),(45,864),(40,850),(42,836),(38,826),(33,830),(29,823)],
            [(24,836),(30,838),(28,850),(31,855)], [(40,822),(45,832),(40,842)]]
LOGO_BAR = [(29,867),(91,867)]

LAND = "#e4e4e3"
LOW = "#ffd60a"
HIGH = "#1565ae"

def unzoom(points, origin):
    return [origin[0] + p[0] / 3 for p in points], [origin[1] + p[1] / 3 for p in points]

def xs(path):
    return [p[0] for p in path]

def ys(path):
    return [p[1] for p in path]

fig = go.Figure()

for shape in [MAINLAND, ALASKA, KODIAK, ISLE_NORTON, KAUAI, OAHU, MAUI, BIG_ISLAND, PUERTO_RICO]:
    fig.add_trace(go.Scatter(x=xs(shape), y=ys(shape), mode="lines", fill="toself", fillcolor=LAND,
                             line=dict(color=LAND, width=0.5), hoverinfo="skip", showlegend=False))
fig.add_trace(go.Scatter(x=xs(PUGET_SOUND), y=ys(PUGET_SOUND), mode="lines", fill="toself", fillcolor="white",
                         line=dict(color="white", width=0.5), hoverinfo="skip", showlegend=False))
fig.add_trace(go.Scatter(x=xs(ALEUTIANS), y=ys(ALEUTIANS), mode="lines",
                         line=dict(color="#efefef", width=1.2), hoverinfo="skip", showlegend=False))
for band in WATERMARK_BANDS:
    fig.add_trace(go.Scatter(x=xs(band), y=ys(band), mode="lines", hoverinfo="skip", showlegend=False,
                             line=dict(color="rgba(170,205,225,0.26)", width=21)))
for border in BORDERS:
    fig.add_trace(go.Scatter(x=xs(border), y=ys(border), mode="lines", hoverinfo="skip", showlegend=False,
                             line=dict(color="white", width=1.6)))

low_sets = [(NW_LOW, NW_ORIGIN), (SW_LOW, SW_ORIGIN), (NC_LOW, NC_ORIGIN), (NE_LOW, NE_ORIGIN), (NY_LOW, NE_ORIGIN),
            (SC_LOW, SC_ORIGIN), (SE_LOW, SE_ORIGIN), (FL_LOW, FL_ORIGIN), (TX_LOW, TX_ORIGIN), (AK_HI_LOW, AK_HI_ORIGIN)]
high_sets = [(NW_HIGH, NW_ORIGIN), (SW_HIGH, SW_ORIGIN), (NC_HIGH, NC_ORIGIN), (NE_HIGH, NE_ORIGIN), (SC_HIGH, SC_ORIGIN),
             (SE_HIGH, SE_ORIGIN), (FL_HIGH, FL_ORIGIN), (TX_HIGH, TX_ORIGIN), (AK_HI_HIGH, AK_HI_ORIGIN)]

for name, sets, color, legend_id in [(CATEGORIES[0], low_sets, LOW, "legend"), (CATEGORIES[1], high_sets, HIGH, "legend2")]:
    px, py = [], []
    for pts, origin in sets:
        a, b = unzoom(pts, origin)
        px += a
        py += b
    fig.add_trace(go.Scatter(x=px, y=py, mode="markers", name=name, legendgroup=name, showlegend=False,
                             marker=dict(color=color, size=5.4, line=dict(width=0))))
    # larger legend key
    fig.add_trace(go.Scatter(x=[None], y=[None], mode="markers", name=name, legendgroup=name, legend=legend_id,
                             marker=dict(color=color, size=15, line=dict(width=0))))

# logos
fig.add_trace(go.Scatter(x=xs(SHIELD), y=ys(SHIELD), mode="lines", hoverinfo="skip", showlegend=False,
                         line=dict(color="#41a9dd", width=6.5, shape="spline", smoothing=0.35)))
fig.add_trace(go.Scatter(x=xs(SHIELD_S), y=ys(SHIELD_S), mode="lines", hoverinfo="skip", showlegend=False,
                         line=dict(color="#41a9dd", width=4)))
for stroke in BIBENDUM:
    fig.add_trace(go.Scatter(x=xs(stroke), y=ys(stroke), mode="lines", hoverinfo="skip", showlegend=False,
                             line=dict(color="#666666", width=1)))
fig.add_trace(go.Scatter(x=xs(LOGO_BAR), y=ys(LOGO_BAR), mode="lines", hoverinfo="skip", showlegend=False,
                         line=dict(color="#ffe000", width=4)))

FONT = "Open Sans"
LEGEND_STYLE = dict(orientation="h", y=0.9645, xanchor="left", yanchor="middle",
                    itemsizing="trace", itemwidth=50, bgcolor="rgba(0,0,0,0)",
                    font=dict(family=FONT, size=16.4, color="#222222"))
fig.update_layout(
    width=1224, height=902, margin=dict(l=0, r=0, t=0, b=0),
    paper_bgcolor="white", plot_bgcolor="white", font=dict(family=FONT),
    xaxis=dict(range=[0, 1224], visible=False, fixedrange=True),
    yaxis=dict(range=[902, 0], visible=False, fixedrange=True),
    legend=dict(x=0.3676, **LEGEND_STYLE),
    legend2=dict(x=0.4853, **LEGEND_STYLE),
    annotations=[
        dict(x=119, y=820, xref="x", yref="y", text=TITLE, showarrow=False, xanchor="left", yanchor="middle",
             font=dict(family=FONT, size=25.9, color="#000000")),
        dict(x=119, y=852, xref="x", yref="y", text=SUBTITLE, showarrow=False, xanchor="left", yanchor="middle",
             font=dict(family=FONT, size=18.05, color="#555555")),
        dict(x=119, y=884, xref="x", yref="y", text="<b>" + SOURCE + "</b>", showarrow=False, xanchor="left", yanchor="middle",
             font=dict(family=FONT, size=16.4, color="#555555")),
        dict(x=75, y=848, xref="x", yref="y", text="<b><i>MICHELIN</i></b>", showarrow=False, xanchor="center", yanchor="middle",
             font=dict(family="Liberation Sans", size=12, color="#27509b")),
    ],
)

fig.write_html("out.html", config=dict(displayModeBar=False),
               post_script="document.body.style.margin='0';document.body.style.overflow='hidden';")
